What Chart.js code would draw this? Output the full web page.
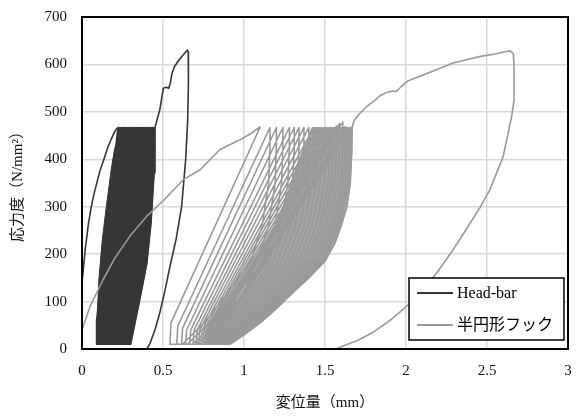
<!DOCTYPE html>
<html>
<head>
<meta charset="utf-8">
<script src="https://cdn.jsdelivr.net/npm/chart.js@4.4.0/dist/chart.umd.min.js"></script>
<style>
  html, body { margin: 0; padding: 0; background: #fff; }
  canvas { display: block; }
</style>
</head>
<body>
<canvas id="chart" width="576" height="419"></canvas>
<script>
// 変位量 (mm), 応力度 (N/mm2) を [x, y] で読み取り

// Head-bar: 初期載荷
const headBarLoad = [
  [0, 0], [0, 140], [0.02, 210], [0.04, 265], [0.06, 305], [0.08, 335], [0.11, 375],
  [0.14, 405], [0.16, 426], [0.19, 450], [0.21, 463], [0.222, 467]
];

// Head-bar: 繰返し (除荷 -> 下限 -> 再載荷)
const headBarCycles = [
  [0.09, 60], [0.09, 10], [0.13, 10], [0.168, 103], [0.198, 180], [0.216, 266], [0.229, 371], [0.232, 467],
  [0.092, 60], [0.092, 10], [0.14, 10], [0.178, 103], [0.208, 180], [0.226, 266], [0.239, 371], [0.242, 467],
  [0.094, 60], [0.094, 10], [0.15, 10], [0.188, 103], [0.218, 180], [0.236, 266], [0.249, 371], [0.252, 467],
  [0.097, 60], [0.097, 10], [0.16, 10], [0.198, 103], [0.228, 180], [0.246, 266], [0.259, 371], [0.262, 467],
  [0.10, 60], [0.10, 10], [0.17, 10], [0.208, 103], [0.239, 180], [0.257, 266], [0.270, 371], [0.273, 467],
  [0.104, 60], [0.104, 10], [0.18, 10], [0.219, 103], [0.251, 180], [0.269, 266], [0.283, 371], [0.286, 467],
  [0.108, 60], [0.108, 10], [0.19, 10], [0.230, 103], [0.263, 180], [0.282, 266], [0.295, 371], [0.299, 467],
  [0.113, 60], [0.113, 10], [0.20, 10], [0.241, 103], [0.275, 180], [0.294, 266], [0.308, 371], [0.312, 467],
  [0.118, 60], [0.118, 10], [0.21, 10], [0.253, 103], [0.287, 180], [0.307, 266], [0.321, 371], [0.325, 467],
  [0.124, 60], [0.124, 10], [0.22, 10], [0.264, 103], [0.299, 180], [0.319, 266], [0.334, 371], [0.338, 467],
  [0.13, 60], [0.13, 10], [0.23, 10], [0.275, 103], [0.311, 180], [0.332, 266], [0.347, 371], [0.351, 467],
  [0.137, 60], [0.137, 10], [0.24, 10], [0.286, 103], [0.323, 180], [0.344, 266], [0.360, 371], [0.364, 467],
  [0.144, 60], [0.144, 10], [0.25, 10], [0.297, 103], [0.335, 180], [0.357, 266], [0.373, 371], [0.377, 467],
  [0.152, 60], [0.152, 10], [0.26, 10], [0.308, 103], [0.347, 180], [0.369, 266], [0.386, 371], [0.39, 467],
  [0.16, 60], [0.16, 10], [0.27, 10], [0.320, 103], [0.360, 180], [0.383, 266], [0.401, 371], [0.405, 467],
  [0.17, 60], [0.17, 10], [0.28, 10], [0.332, 103], [0.374, 180], [0.398, 266], [0.415, 371], [0.42, 467],
  [0.18, 60], [0.18, 10], [0.29, 10], [0.344, 103], [0.387, 180], [0.412, 266], [0.430, 371], [0.435, 467],
  [0.19, 60], [0.19, 10], [0.30, 10], [0.356, 103], [0.40, 180], [0.426, 266], [0.445, 371], [0.45, 467]
];

// Head-bar: 最終載荷と除荷
const headBarFinal = [
  [0.452, 469], [0.48, 504], [0.495, 535], [0.502, 550], [0.52, 552], [0.535, 550], [0.545, 560],
  [0.555, 580], [0.57, 595], [0.60, 610], [0.63, 622], [0.65, 630], [0.656, 626], [0.657, 560],
  [0.652, 480], [0.64, 400], [0.615, 300], [0.58, 230], [0.543, 174], [0.51, 120], [0.48, 76],
  [0.45, 40], [0.42, 12], [0.40, 0]
];

// Head-bar: 線が密集して塗りつぶされて見える範囲
const headBarDense = [
  [0.092, 10], [0.30, 10], [0.356, 103], [0.40, 180], [0.426, 266], [0.445, 371], [0.45, 467],
  [0.24, 467], [0.20, 420], [0.18, 378], [0.15, 300], [0.125, 230], [0.105, 150], [0.095, 80]
];

// 半円形フック: 初期載荷
const hookLoad = [
  [0, 0], [0, 40], [0.05, 90], [0.13, 146], [0.2, 190], [0.3, 240], [0.4, 280], [0.5, 312],
  [0.625, 357], [0.73, 378], [0.85, 420], [0.89, 427], [0.975, 441], [1.05, 456], [1.09, 466], [1.10, 468]
];

// 半円形フック: 繰返し
const hookCycles = [
  [0.549, 55], [0.543, 10], [0.62, 10], [0.753, 55], [0.897, 118], [1.041, 185], [1.112, 260], [1.152, 350], [1.159, 420], [1.16, 467],
  [0.591, 48], [0.585, 10], [0.65, 10], [0.786, 55], [0.932, 118], [1.078, 185], [1.152, 260], [1.192, 350], [1.199, 420], [1.20, 467],
  [0.621, 44], [0.615, 10], [0.68, 10], [0.818, 55], [0.967, 118], [1.116, 185], [1.191, 260], [1.232, 350], [1.239, 420], [1.24, 467],
  [0.646, 40], [0.64, 10], [0.70, 10], [0.843, 55], [0.998, 118], [1.152, 185], [1.229, 260], [1.271, 350], [1.279, 420], [1.28, 467],
  [0.671, 40], [0.665, 10], [0.72, 10], [0.866, 55], [1.023, 118], [1.180, 185], [1.258, 260], [1.301, 350], [1.309, 420], [1.31, 467],
  [0.692, 40], [0.686, 10], [0.74, 10], [0.888, 55], [1.048, 118], [1.207, 185], [1.287, 260], [1.331, 350], [1.339, 420], [1.34, 467],
  [0.711, 40], [0.705, 10], [0.755, 10], [0.907, 55], [1.070, 118], [1.234, 185], [1.316, 260], [1.361, 350], [1.369, 420], [1.37, 467],
  [0.726, 40], [0.72, 10], [0.77, 10], [0.926, 55], [1.093, 118], [1.261, 185], [1.345, 260], [1.391, 350], [1.399, 420], [1.40, 467],
  [0.741, 40], [0.735, 10], [0.785, 10], [0.944, 55], [1.116, 118], [1.287, 185], [1.373, 260], [1.420, 350], [1.429, 420], [1.43, 467],
  [0.754, 40], [0.748, 10], [0.80, 10], [0.962, 55], [1.136, 118], [1.310, 185], [1.397, 260], [1.445, 350], [1.454, 420], [1.455, 467],
  [0.766, 40], [0.76, 10], [0.815, 10], [0.979, 55], [1.156, 118], [1.333, 185], [1.421, 260], [1.470, 350], [1.479, 420], [1.48, 467],
  [0.776, 40], [0.77, 10], [0.83, 10], [0.997, 55], [1.176, 118], [1.356, 185], [1.446, 260], [1.495, 350], [1.504, 420], [1.505, 467],
  [0.786, 40], [0.78, 10], [0.84, 10], [1.010, 55], [1.194, 118], [1.378, 185], [1.469, 260], [1.520, 350], [1.529, 420], [1.53, 467],
  [0.796, 40], [0.79, 10], [0.85, 10], [1.023, 55], [1.209, 118], [1.395, 185], [1.488, 260], [1.540, 350], [1.549, 420], [1.55, 467],
  [0.806, 40], [0.80, 10], [0.86, 10], [1.035, 55], [1.224, 118], [1.413, 185], [1.508, 260], [1.559, 350], [1.569, 420], [1.57, 470],
  [0.816, 40], [0.81, 10], [0.87, 10], [1.048, 55], [1.239, 118], [1.431, 185], [1.527, 260], [1.579, 350], [1.589, 420], [1.59, 476],
  [0.826, 40], [0.82, 10], [0.88, 10], [1.060, 55], [1.254, 118], [1.449, 185], [1.546, 260], [1.599, 350], [1.609, 420], [1.61, 479],
  [0.836, 40], [0.83, 10], [0.89, 10], [1.072, 55], [1.267, 118], [1.463, 185], [1.560, 260], [1.614, 350], [1.624, 420], [1.625, 469],
  [0.846, 40], [0.84, 10], [0.90, 10], [1.083, 55], [1.280, 118], [1.476, 185], [1.575, 260], [1.629, 350], [1.639, 420], [1.64, 467],
  [0.856, 40], [0.85, 10], [0.907, 10], [1.092, 55], [1.291, 118], [1.490, 185], [1.589, 260], [1.644, 350], [1.654, 420], [1.655, 467],
  [0.866, 40], [0.86, 10], [0.914, 10], [1.0, 30], [1.100, 55], [1.20, 85], [1.300, 118], [1.40, 150], [1.50, 185],
  [1.56, 222], [1.60, 260], [1.635, 300], [1.656, 350], [1.666, 420], [1.667, 467]
];

// 半円形フック: 最終載荷と除荷
const hookFinal = [
  [1.68, 482], [1.716, 497], [1.76, 512], [1.80, 522], [1.84, 534], [1.88, 541], [1.92, 544],
  [1.94, 543], [1.97, 553], [2.01, 565], [2.13, 581], [2.29, 603], [2.46, 617], [2.55, 622],
  [2.642, 629], [2.662, 623], [2.667, 600], [2.667, 525], [2.652, 490], [2.60, 406], [2.518, 336],
  [2.46, 300], [2.375, 254], [2.29, 209], [2.2, 165], [2.1, 122], [2.0, 89], [1.9, 60],
  [1.8, 36], [1.7, 18], [1.6, 5], [1.57, 0]
];

// 半円形フック: 線が密集している範囲
const hookDense = [
  [0.76, 10], [0.914, 10], [1.0, 30], [1.10, 55], [1.20, 85], [1.30, 118], [1.40, 150], [1.50, 185],
  [1.56, 222], [1.60, 260], [1.635, 300], [1.656, 350], [1.666, 420], [1.667, 467],
  [1.42, 467], [1.34, 400], [1.24, 300], [1.12, 200], [1.0, 120], [0.88, 55]
];

const xTicks = [0, 0.5, 1, 1.5, 2, 2.5, 3];
const yTicks = [0, 100, 200, 300, 400, 500, 600, 700];
const legendNames = ['Head-bar', '半円形フック'];

const DARK = '#363636';
const GRAY = '#999999';
const SERIF = "'Liberation Serif', 'Noto Sans CJK JP', serif";
const JP = "'Liberation Serif', 'Noto Sans CJK JP', sans-serif";

const toXY = pts => pts.map(([x, y]) => ({ x, y }));

// 枠線
const frame = {
  id: 'frame',
  afterDatasetsDraw(chart) {
    const { ctx, chartArea: a } = chart;
    ctx.save();
    ctx.strokeStyle = '#000';
    ctx.lineWidth = 2;
    ctx.strokeRect(a.left, a.top, a.right - a.left, a.bottom - a.top);
    ctx.restore();
  }
};

// 凡例 (グラフ内右下の枠付き)
const boxLegend = {
  id: 'boxLegend',
  afterDraw(chart) {
    const { ctx, chartArea: a } = chart;
    const w = 155, h = 62;
    const x0 = a.right - w - 4, y0 = a.bottom - h - 9;
    ctx.save();
    ctx.fillStyle = '#fff';
    ctx.fillRect(x0, y0, w, h);
    ctx.strokeStyle = '#000';
    ctx.lineWidth = 1.5;
    ctx.strokeRect(x0, y0, w, h);
    legendNames.forEach((name, i) => {
      const ds = chart.data.datasets.find(d => d.label === name);
      const y = y0 + 15 + i * 32;
      ctx.strokeStyle = ds.borderColor;
      ctx.lineWidth = 2;
      ctx.beginPath();
      ctx.moveTo(x0 + 8, y);
      ctx.lineTo(x0 + 44, y);
      ctx.stroke();
      ctx.fillStyle = '#000';
      ctx.font = '16px ' + SERIF;
      ctx.textBaseline = 'middle';
      ctx.fillText(name, x0 + 48, y + 1);
    });
    ctx.restore();
  }
};

const lineStyle = { showLine: true, pointRadius: 0, borderWidth: 1.6, borderJoinStyle: 'round', tension: 0, fill: false };

new Chart(document.getElementById('chart'), {
  type: 'scatter',
  data: {
    datasets: [
      { label: '半円形フック', data: toXY([...hookLoad, ...hookCycles, ...hookFinal]), borderColor: GRAY, ...lineStyle },
      { label: 'Head-bar', data: toXY([...headBarLoad, ...headBarCycles, ...headBarFinal]), borderColor: DARK, ...lineStyle },
      { label: 'hook-dense', data: toXY(hookDense), showLine: true, pointRadius: 0, borderWidth: 1,
        borderColor: '#a3a3a3', backgroundColor: '#a3a3a3', fill: 'shape' },
      { label: 'head-dense', data: toXY(headBarDense), showLine: true, pointRadius: 0, borderWidth: 1,
        borderColor: DARK, backgroundColor: DARK, fill: 'shape' }
    ]
  },
  options: {
    responsive: false,
    animation: false,
    devicePixelRatio: 1,
    layout: { padding: { top: 17, right: 8, left: 0, bottom: 0 } },
    plugins: { legend: { display: false }, tooltip: { enabled: false } },
    scales: {
      x: {
        type: 'linear', min: 0, max: 3,
        afterBuildTicks: s => { s.ticks = xTicks.map(v => ({ value: v })); },
        afterFit: s => { s.height = 70; s.paddingLeft = 0; s.paddingRight = 0; },
        ticks: { font: { family: SERIF, size: 15 }, color: '#111', padding: 13, callback: v => String(v) },
        grid: { color: '#d9d9d9', lineWidth: 1.5, drawTicks: false },
        border: { display: false },
        title: { display: true, text: '変位量（mm）', font: { family: JP, size: 15 }, color: '#111', padding: { top: 0, bottom: 7 } }
      },
      y: {
        min: 0, max: 700,
        afterBuildTicks: s => { s.ticks = yTicks.map(v => ({ value: v })); },
        afterFit: s => { s.width = 82; s.paddingTop = 0; s.paddingBottom = 0; },
        ticks: { font: { family: SERIF, size: 15 }, color: '#111', padding: 15, callback: v => String(v) },
        grid: { color: '#d9d9d9', lineWidth: 1.5, drawTicks: false },
        border: { display: false },
        title: { display: true, text: '応力度（N/mm²）', font: { family: JP, size: 15 }, color: '#111', padding: { top: 9, bottom: 0 } }
      }
    }
  },
  plugins: [frame, boxLegend]
});
</script>
</body>
</html>
